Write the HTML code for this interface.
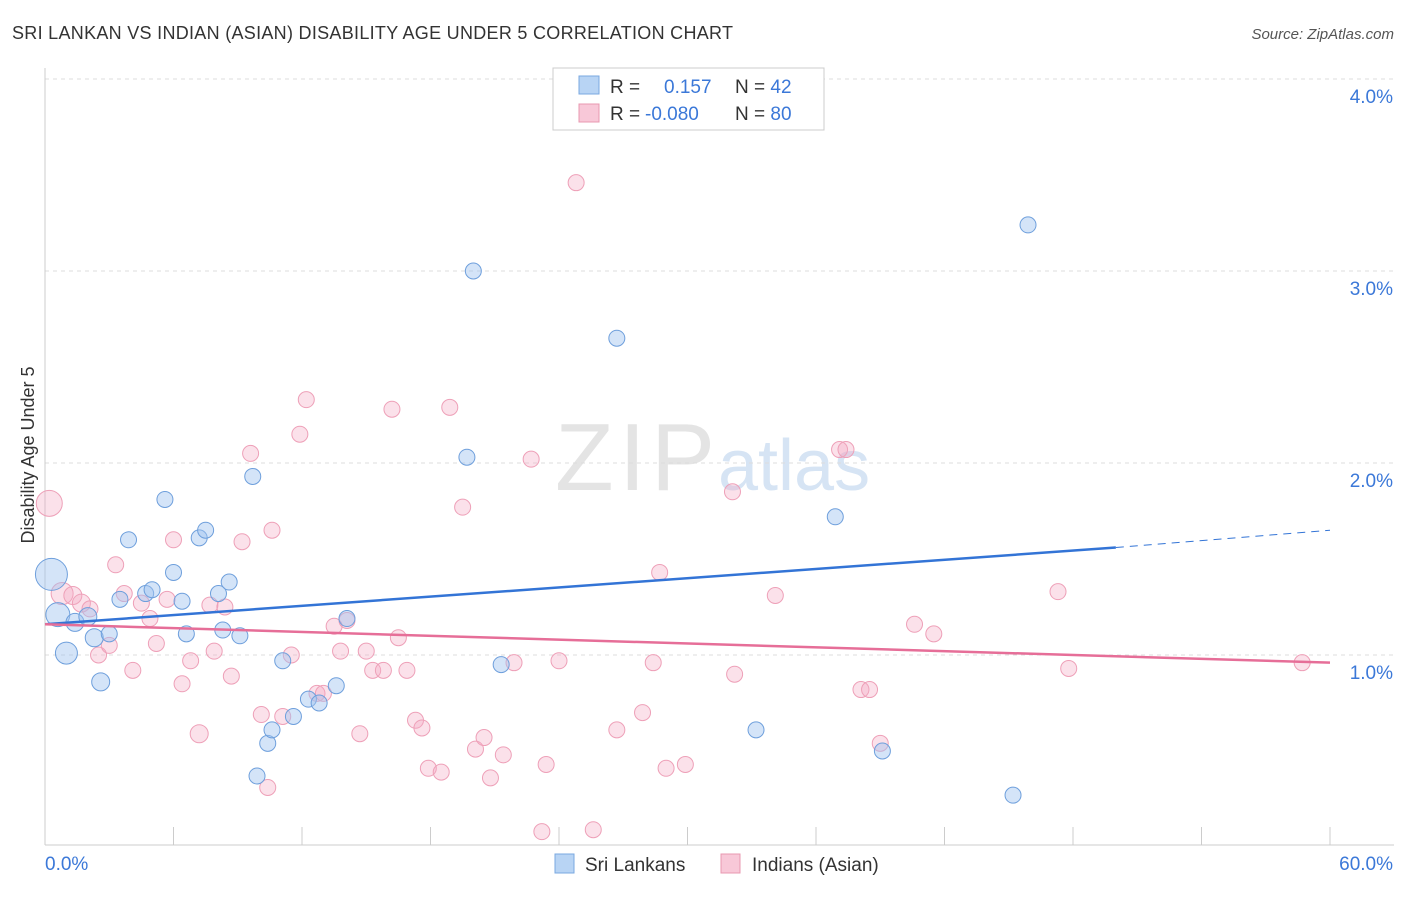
<!DOCTYPE html>
<html><head><meta charset="utf-8"><style>
body{margin:0;background:#fff;font-family:"Liberation Sans",sans-serif}
svg text{font-family:"Liberation Sans",sans-serif}
</style></head><body>
<svg id="chart" width="1406" height="892">
<text x="12" y="39" font-size="18" fill="#333" textLength="721">SRI LANKAN VS INDIAN (ASIAN) DISABILITY AGE UNDER 5 CORRELATION CHART</text>
<text x="1394" y="39" font-size="15" fill="#555" font-style="italic" text-anchor="end">Source: ZipAtlas.com</text>
<text x="555" y="490" font-size="96" fill="#e4e4e4" textLength="160" font-family="Liberation Serif">ZIP</text>
<text x="718" y="490" font-size="72" fill="#d6e4f4">atlas</text>
<g id="grid"></g>
<g id="axes"></g>
<text transform="translate(34,455) rotate(-90)" font-size="18" fill="#333" text-anchor="middle">Disability Age Under 5</text>
<g id="marks"></g>
<g>
<rect x="553" y="68" width="271" height="62" fill="#fff" stroke="#ccc"/>
<rect x="579" y="76" width="20" height="18" fill="#b8d4f4" stroke="#7aa8e0"/>
<rect x="579" y="104" width="20" height="18" fill="#f8c8d8" stroke="#e898b0"/>
<text x="610" y="93" font-size="19" fill="#333">R = <tspan fill="#3b78d8" x="664">0.157</tspan><tspan x="735" fill="#333">N = </tspan><tspan fill="#3b78d8">42</tspan></text>
<text x="610" y="120" font-size="19" fill="#333">R = <tspan fill="#3b78d8" x="645">-0.080</tspan><tspan x="735" fill="#333">N = </tspan><tspan fill="#3b78d8">80</tspan></text>
</g>
<g>
<rect x="555" y="854" width="19" height="19" fill="#b8d4f4" stroke="#7aa8e0"/>
<text x="585" y="871" font-size="19" fill="#333">Sri Lankans</text>
<rect x="721" y="854" width="19" height="19" fill="#f8c8d8" stroke="#e898b0"/>
<text x="752" y="871" font-size="19" fill="#333">Indians (Asian)</text>
</g>
</svg>
<script>
const yTicks=[1,2,3,4];
const yTickLabels=["1.0%","2.0%","3.0%","4.0%"];
const blueX=[0.3,0.6,1.0,1.4,2.0,2.3,2.6,3.0,3.5,3.9,4.7,5.0,5.6,6.0,6.4,6.6,7.2,7.5,8.1,8.3,8.6,9.1,9.7,9.9,10.4,10.6,11.1,11.6,12.3,12.8,13.6,14.1,19.7,20.0,21.3,26.7,33.2,36.9,39.1,45.2,45.9];
const blueY=[1.42,1.21,1.01,1.17,1.20,1.09,0.86,1.11,1.29,1.60,1.32,1.34,1.81,1.43,1.28,1.11,1.61,1.65,1.32,1.13,1.38,1.10,1.93,0.37,0.54,0.61,0.97,0.68,0.77,0.75,0.84,1.19,2.03,3.00,0.95,2.65,0.61,1.72,0.50,0.27,3.24];
const blueR=[16,12,11,9,9,9,9,8,8,8,8,8,8,8,8,8,8,8,8,8,8,8,8,8,8,8,8,8,8,8,8,8,8,8,8,8,8,8,8,8,8];
const pinkX=[0.2,0.8,1.3,1.7,2.1,2.5,3.0,3.3,3.7,4.1,4.5,4.9,5.2,5.7,6.0,6.4,6.8,7.2,7.7,7.9,8.4,8.7,9.2,9.6,10.1,10.4,10.6,11.1,11.5,11.9,12.2,12.7,13.0,13.5,13.8,14.1,14.7,15.0,15.3,15.8,16.2,16.5,16.9,17.3,17.6,17.9,18.5,18.9,19.5,20.1,20.5,20.8,21.4,21.9,22.7,23.4,23.2,24.0,24.8,25.6,26.7,27.9,28.4,28.7,29.0,29.9,32.1,32.2,34.1,37.1,37.4,38.1,38.5,39.0,40.6,41.5,47.3,47.8,58.7];
const pinkY=[1.79,1.32,1.31,1.27,1.24,1.00,1.05,1.47,1.32,0.92,1.27,1.19,1.06,1.29,1.60,0.85,0.97,0.59,1.26,1.02,1.25,0.89,1.59,2.05,0.69,0.31,1.65,0.68,1.00,2.15,2.33,0.80,0.80,1.15,1.02,1.18,0.59,1.02,0.92,0.92,2.28,1.09,0.92,0.66,0.62,0.41,0.39,2.29,1.77,0.51,0.57,0.36,0.48,0.96,2.02,0.43,0.08,0.97,3.46,0.09,0.61,0.70,0.96,1.43,0.41,0.43,1.85,0.90,1.31,2.07,2.07,0.82,0.82,0.54,1.16,1.11,1.33,0.93,0.96];
const pinkR=[13,11,9,9,8,8,8,8,8,8,8,8,8,8,8,8,8,9,8,8,8,8,8,8,8,8,8,8,8,8,8,8,8,8,8,8,8,8,8,8,8,8,8,8,8,8,8,8,8,8,8,8,8,8,8,8,8,8,8,8,8,8,8,8,8,8,8,8,8,8,8,8,8,8,8,8,8,8,8];
const blueTrend=[1.16,1.56,1.65];
const pinkTrend=[1.16,0.96];
const X=v=>45+v/60*1285, Y=v=>847-v*192;
const NS="http://www.w3.org/2000/svg";
function mk(t,a,p){const e=document.createElementNS(NS,t);for(const k in a)e.setAttribute(k,a[k]);p.appendChild(e);return e;}
const grid=document.getElementById('grid'),axes=document.getElementById('axes'),marks=document.getElementById('marks');
yTicks.forEach((t,i)=>{
 const l=mk('line',{x1:45,x2:1394,y1:Y(t),y2:Y(t),stroke:'#ddd','stroke-dasharray':'4,4'},grid);
 
 
 const tx=mk('text',{x:1393,y:Y(t)+24,'font-size':19,fill:'#3b78d8','text-anchor':'end'},axes);
 tx.textContent=yTickLabels[i];
 
 
});
mk('line',{x1:45,x2:45,y1:68,y2:845,stroke:'#ccc'},axes);
mk('line',{x1:45,x2:1394,y1:845,y2:845,stroke:'#ccc'},axes);
for(let i=0;i<=10;i++){const x=45+i*128.5;const t=mk('line',{x1:x,x2:x,y1:827,y2:845,stroke:'#ccc'},axes);
 
 }
const xl=mk('text',{x:45,y:870,'font-size':19,fill:'#3b78d8'},axes);xl.textContent='0.0%';


const xr=mk('text',{x:1393,y:870,'font-size':19,fill:'#3b78d8','text-anchor':'end'},axes);xr.textContent='60.0%';


pinkX.forEach((v,i)=>{const c=mk('circle',{cx:X(v),cy:Y(pinkY[i]),r:pinkR[i],fill:'rgba(244,170,195,0.35)',stroke:'#eea0b8','stroke-width':1},marks);
 
 });
blueX.forEach((v,i)=>{const c=mk('circle',{cx:X(v),cy:Y(blueY[i]),r:blueR[i],fill:'rgba(160,195,240,0.45)',stroke:'#6e9fdc','stroke-width':1},marks);
 
 });
const bl=mk('line',{x1:X(0),y1:Y(blueTrend[0]),x2:X(50),y2:Y(blueTrend[1]),stroke:'#3374d6','stroke-width':2.5},marks);


const bd=mk('line',{x1:X(50),y1:Y(blueTrend[1]),x2:X(60),y2:Y(blueTrend[2]),stroke:'#3374d6','stroke-width':1,'stroke-dasharray':'8,6'},marks);


const pl=mk('line',{x1:X(0),y1:Y(pinkTrend[0]),x2:X(60),y2:Y(pinkTrend[1]),stroke:'#e66e98','stroke-width':2.5},marks);


</script>
</body></html>
